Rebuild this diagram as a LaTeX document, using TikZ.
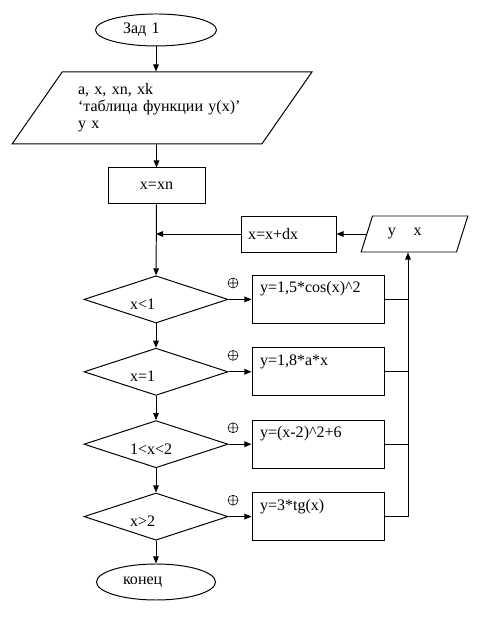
\documentclass[tikz,border=0pt]{standalone}
\usepackage{fontspec}
\setmainfont{Liberation Serif}
\usetikzlibrary{shapes.geometric,arrows.meta}

\begin{document}
\begin{tikzpicture}[
  line width=0.7pt,
  every node/.style={font=\fontsize{11.4}{12.1}\selectfont},
  term/.style={draw,ellipse,inner sep=0pt,text width=1.65cm,align=left},
  io/.style={draw,trapezium,trapezium stretches=true,inner sep=1pt,align=left},
  proc/.style={draw,rectangle,inner sep=1pt,align=left},
  cond/.style={draw,diamond,aspect=3,inner sep=1pt,minimum width=3.6cm,minimum height=1.18cm,
               text width=1.3cm,align=left,text height=0.51cm,text depth=0pt},
  func/.style={draw,rectangle,inner sep=0.06cm,minimum width=3.3cm,minimum height=1.2cm,
               text width=2.9cm,align=left,text height=0.3cm,text depth=0.62cm},
  arr/.style={-{Triangle[length=5pt,width=4pt]}},
  pluscirc/.style={line width=0.4pt},
]
%\draw[step=0.5cm,gray,very thin] (0,0) grid (12,15.5); %background grid
\useasboundingbox (0,0) rectangle (12.025,15.625);

\node[term,minimum width=3.025cm,minimum height=0.8cm] (start) at (3.9,14.875) {Зад 1};

\node[io,minimum width=7.5cm,minimum height=1.8cm,text width=4.2cm,
      trapezium left angle=50.19,trapezium right angle=129.81] (inp) at (4.05,12.925)
      {a, x, xn, xk\\‘таблица функции y(x)’\\y x};

\node[proc,minimum width=2.425cm,minimum height=0.9cm] (xn) at (3.9125,10.975) {x=xn};
\node[proc,minimum width=2.375cm,minimum height=0.9cm,text width=2.025cm] (xdx) at (7.2125,9.775) {x=x+dx};

\node[io,minimum width=2.675cm,minimum height=0.9cm,text width=1.33cm,
      trapezium left angle=60.95,trapezium right angle=119.05] (outp) at (10.3625,9.775)
      {y\hspace{1.1em}x};

\node[cond] (c1) at (3.9,8.14) {x<1};
\node[cond] (c2) at (3.9,6.33) {x=1};
\node[cond] (c3) at (3.9,4.52) {1<x<2};
\node[cond] (c4) at (3.9,2.71) {x>2};

\node[func] (f1) at (7.95,8.14) {y=1,5*cos(x)\^{}2};
\node[func] (f2) at (7.95,6.33) {y=1,8*a*x};
\node[func] (f3) at (7.95,4.52) {y=(x-2)\^{}2+6};
\node[func] (f4) at (7.95,2.71) {y=3*tg(x)};

\node[term,minimum width=2.975cm,minimum height=0.9cm] (stop) at (3.9,1.075) {конец};

\coordinate (back) at (10.2,2.71);

\draw[arr] (start) -- (start |- inp.north);
\draw[arr] (xn |- inp.south) -- (xn);
\draw[arr] (xn) -- (c1);
\draw[arr] (outp) -- (xdx);
\draw[arr] (xdx) -- (xdx -| c1);

\draw[arr] (c1) -- (c2);
\draw[arr] (c2) -- (c3);
\draw[arr] (c3) -- (c4);
\draw[arr] (c4) -- (stop);

\draw[arr] (c1) -- (f1);
\draw[arr] (c2) -- (f2);
\draw[arr] (c3) -- (f3);
\draw[arr] (c4) -- (f4);

\draw (f1) -- (f1 -| back);
\draw (f2) -- (f2 -| back);
\draw (f3) -- (f3 -| back);
\draw (f4) -- (back);
\draw[arr] (back) -- (back |- outp.south);

\draw[pluscirc] (5.825,8.55) circle (0.125) (5.7,8.55) -- (5.95,8.55) (5.825,8.425) -- (5.825,8.675);
\draw[pluscirc] (5.825,6.74) circle (0.125) (5.7,6.74) -- (5.95,6.74) (5.825,6.615) -- (5.825,6.865);
\draw[pluscirc] (5.825,4.93) circle (0.125) (5.7,4.93) -- (5.95,4.93) (5.825,4.805) -- (5.825,5.055);
\draw[pluscirc] (5.825,3.12) circle (0.125) (5.7,3.12) -- (5.95,3.12) (5.825,2.995) -- (5.825,3.245);

\end{tikzpicture}
\end{document}
